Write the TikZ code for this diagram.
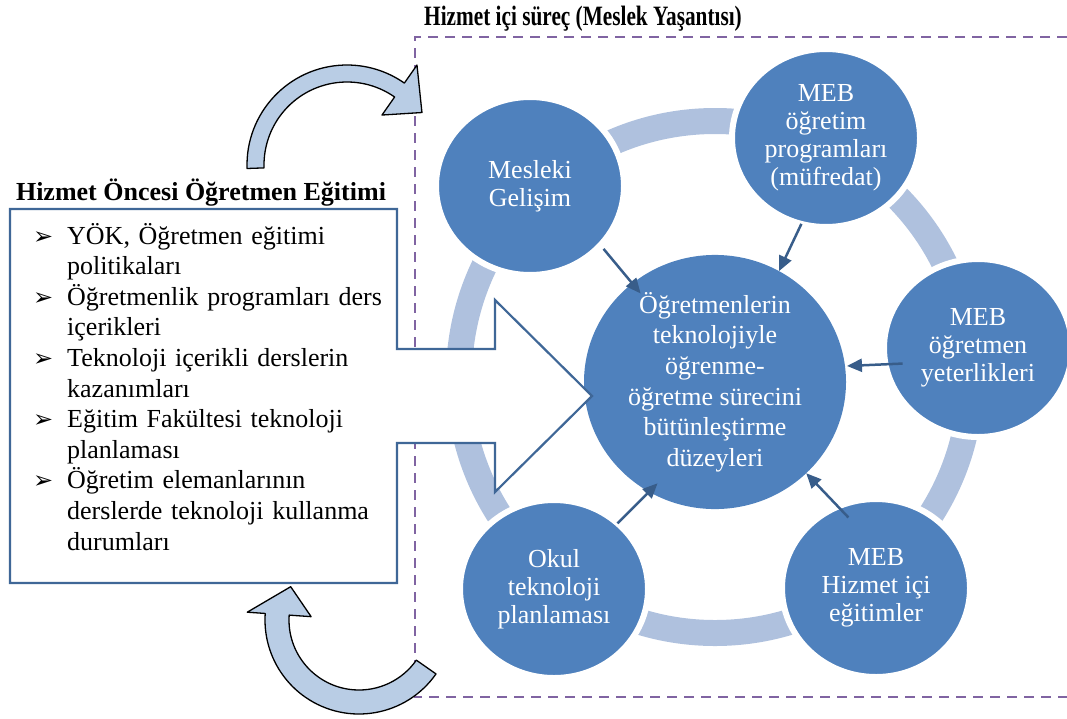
\documentclass[tikz,border=0pt]{standalone}
\usepackage{fontspec}
\setmainfont{Liberation Serif}
\newfontfamily\dingfont{DejaVu Sans}
\usetikzlibrary{arrows.meta, calc, shapes.geometric}

\definecolor{circblue}{HTML}{4F81BD}
\definecolor{ringblue}{HTML}{AFC1DE}
\definecolor{connblue}{HTML}{385D8A}
\definecolor{callblue}{HTML}{3F6797}
\definecolor{framepurple}{HTML}{8064A2}
\definecolor{turnfill}{HTML}{B9CDE5}

\newcommand{\blt}{\makebox[34pt][l]{\dingfont\fontsize{24}{24}\selectfont ➢}}
\newcommand{\madde}[1]{\noindent\blt #1\par}
\newcommand{\devam}[1]{\noindent\hspace*{34pt}#1\par}

\begin{document}
\begin{tikzpicture}[x=1pt, y=-1pt,
	phase/.style={ellipse, fill=circblue, draw=white, line width=6pt,
		minimum width=188pt, minimum height=178pt, inner sep=0pt, outer sep=0pt,
		text=white, align=center, font=\fontsize{26}{28}\selectfont},
	core/.style={ellipse, fill=circblue, minimum width=262pt, minimum height=250pt,
		inner sep=0pt, outer sep=0pt, text=white, align=center,
		font=\fontsize{26}{30.6}\selectfont},
	feed/.style={draw=connblue, line width=2.5pt, -{Triangle[length=15pt, width=13pt]}},
	turnarrow/.style={draw=black, line width=1.3pt, fill=turnfill, line join=round},
	heading/.style={font=\fontsize{26}{30}\selectfont\bfseries, inner sep=0pt}]
	
	\useasboundingbox (0,0) rectangle (1067,718);
	
	% hizmet ici cercevesi
	\draw[framepurple, line width=2.6pt, dash pattern=on 10pt off 7pt]
		(1067,37) -- (415,37) -- (415,697) -- (1067,697);
	\node[heading, font=\fontsize{28}{30}\selectfont\bfseries, anchor=base] (icbaslik) at (583,25)
		{\scalebox{0.76}[1]{Hizmet içi süreç (Meslek Yaşantısı)}};
	
	% halka
	\draw[ringblue, line width=26pt] (715,377) circle[radius=256];
	
	% daireler
	\node[core] (merkez) at (715,382)
		{Öğretmenlerin\\teknolojiyle\\öğrenme-\\öğretme sürecini\\bütünleştirme\\düzeyleri};
	\node[phase] (mesleki) at (530,186) {Mesleki\\Gelişim};
	\node[phase] (ogretim) at (826,138) {MEB\\öğretim\\programları\\(müfredat)};
	\node[phase] (yeterlik) at (978,348) {MEB\\öğretmen\\yeterlikleri};
	\node[phase] (hizmetici) at (876,588) {MEB\\Hizmet içi\\eğitimler};
	\node[phase] (okul) at (554,589) {Okul\\teknoloji\\planlaması};
	
	\draw[feed, shorten <=5pt, shorten >=-13pt] (mesleki.-40) -- (merkez.130);
	\draw[feed] (ogretim.-106) -- (merkez.60);
	\draw[feed, shorten <=-17pt, shorten >=2pt] (yeterlik.-170) -- (merkez.7);
	\draw[feed, shorten <=-15pt] (hizmetici.115) -- (merkez.-45);
	\draw[feed, shorten >=-12pt] (okul.46) -- (merkez.-121);
	
	% hizmet oncesi kutusu
	\draw[draw=callblue, line width=2.2pt, fill=white]
		(10,209) -- (397,209) -- (397,349) -- (495,349) -- (495,300) -- (592,396)
		-- (495,492) -- (495,443) -- (397,443) -- (397,583) -- (10,583) -- cycle;
	\node[heading, anchor=base] (oncebaslik) at (201,200) {Hizmet Öncesi Öğretmen Eğitimi};
	\node[anchor=base west, text width=370pt, inner sep=0pt,
		font=\fontsize{26}{30.6}\selectfont] (oncelist) at (33,244) {%
		\madde{YÖK, Öğretmen eğitimi}
		\devam{politikaları}
		\madde{Öğretmenlik programları ders}
		\devam{içerikleri}
		\madde{Teknoloji içerikli derslerin}
		\devam{kazanımları}
		\madde{Eğitim Fakültesi teknoloji}
		\devam{planlaması}
		\madde{Öğretim elemanlarının}
		\devam{derslerde teknoloji kullanma}
		\devam{durumları}};
	
	% kivrik oklar
	\coordinate (ustmerkez) at (347,165);
	\draw[turnarrow] ($(ustmerkez)+(178:100)$) arc[start angle=178, end angle=305, radius=100]
		-- ($(ustmerkez)+(305:122)$) -- ($(ustmerkez)+(325:91.5)$) -- ($(ustmerkez)+(305:61)$)
		-- ($(ustmerkez)+(305:83)$) arc[start angle=305, end angle=178, radius=83] -- cycle;
	\coordinate (altmerkez) at (359,620);
	\draw[turnarrow] ($(altmerkez)+(35:94)$) arc[start angle=35, end angle=184, radius=94]
		-- ($(altmerkez)+(184:112)$) -- ($(altmerkez)+(206:76)$) -- ($(altmerkez)+(184:48)$)
		-- ($(altmerkez)+(184:70)$) arc[start angle=184, end angle=35, radius=70] -- cycle;
	
\end{tikzpicture}
\end{document}
